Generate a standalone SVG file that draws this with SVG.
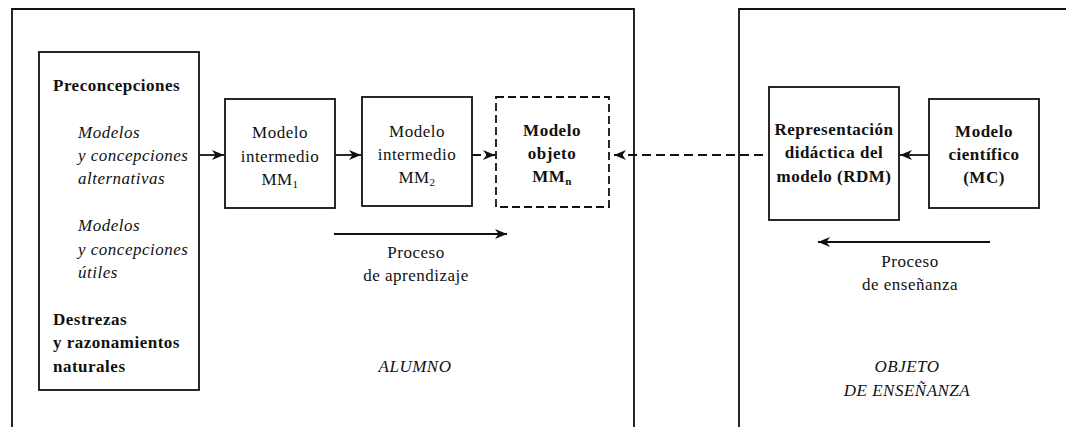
<svg xmlns="http://www.w3.org/2000/svg" width="1066" height="427" viewBox="0 0 1066 427">
<defs>
<style>
.frame{fill:none;stroke:#111;stroke-width:1.8}
.box{fill:#fff;stroke:#111;stroke-width:1.8}
.dbox{fill:#fff;stroke:#111;stroke-width:1.8;stroke-dasharray:8 4}
.t{font-family:"Liberation Serif","Times New Roman",serif;font-size:17px;fill:#111;letter-spacing:0.5px}
.c{text-anchor:middle}
.b{font-weight:bold}
.i{font-style:italic}
.sub{font-size:11px}
.ln{stroke:#111;stroke-width:1.8;fill:none}
.dl{stroke:#111;stroke-width:1.8;fill:none;stroke-dasharray:9 5}
</style>
<marker id="ah" viewBox="0 0 12 10" refX="12" refY="5" markerWidth="12" markerHeight="10" markerUnits="userSpaceOnUse" orient="auto">
<path d="M0,0 L12,5 L0,10 L3.5,5 z" fill="#111"/>
</marker>
</defs>
<rect width="1066" height="427" fill="#fff"/>

<g id="frames">
<path class="frame" d="M12,427 V9 H634 V427"/>
<path class="frame" d="M739,427 V9 H1066"/>
</g>

<g id="connectors">
<line class="ln" x1="199" y1="155" x2="224" y2="155" marker-end="url(#ah)"/>
<line class="ln" x1="335" y1="155" x2="361" y2="155" marker-end="url(#ah)"/>
<line class="dl" x1="472" y1="155" x2="495" y2="155" marker-end="url(#ah)"/>
<line class="dl" x1="763" y1="155" x2="614" y2="155" marker-end="url(#ah)"/>
<line class="ln" x1="929" y1="155" x2="900" y2="155" marker-end="url(#ah)"/>
<line class="ln" x1="334" y1="234" x2="507" y2="234" marker-end="url(#ah)"/>
<line class="ln" x1="990" y1="242" x2="818" y2="242" marker-end="url(#ah)"/>
</g>

<g id="preconcepciones">
<rect class="box" x="39" y="52" width="160" height="338"/>
<text class="t b" x="53" y="91">Preconcepciones</text>
<text class="t i" x="78" y="138">Modelos</text>
<text class="t i" x="78" y="161">y concepciones</text>
<text class="t i" x="78" y="184">alternativas</text>
<text class="t i" x="78" y="231">Modelos</text>
<text class="t i" x="78" y="255">y concepciones</text>
<text class="t i" x="78" y="278">útiles</text>
<text class="t b" x="53" y="325">Destrezas</text>
<text class="t b" x="53" y="348">y razonamientos</text>
<text class="t b" x="53" y="372">naturales</text>
</g>

<g id="mm1">
<rect class="box" x="225" y="99" width="110" height="109"/>
<text class="t c" x="280" y="138">Modelo</text>
<text class="t c" x="280" y="162">intermedio</text>
<text class="t c" x="280" y="185">MM<tspan class="sub" dy="3">1</tspan></text>
</g>

<g id="mm2">
<rect class="box" x="362" y="97" width="110" height="109"/>
<text class="t c" x="417" y="137">Modelo</text>
<text class="t c" x="417" y="160">intermedio</text>
<text class="t c" x="417" y="183">MM<tspan class="sub" dy="3">2</tspan></text>
</g>

<g id="mmn">
<rect class="dbox" x="496" y="97" width="113" height="110"/>
<text class="t c b" x="552" y="136">Modelo</text>
<text class="t c b" x="552" y="159">objeto</text>
<text class="t c b" x="552" y="182">MM<tspan class="sub" dy="3">n</tspan></text>
</g>

<g id="rdm">
<rect class="box" x="769" y="87" width="130" height="133"/>
<text class="t c b" x="834" y="135">Representación</text>
<text class="t c b" x="834" y="158">didáctica del</text>
<text class="t c b" x="834" y="182">modelo (RDM)</text>
</g>

<g id="mc">
<rect class="box" x="929" y="99" width="110" height="109"/>
<text class="t c b" x="984" y="137">Modelo</text>
<text class="t c b" x="984" y="160">científico</text>
<text class="t c b" x="984" y="183">(MC)</text>
</g>

<g id="labels">
<text class="t c" x="416" y="258">Proceso</text>
<text class="t c" x="416" y="281">de aprendizaje</text>
<text class="t c" x="910" y="267">Proceso</text>
<text class="t c" x="910" y="290">de enseñanza</text>
<text class="t c i" x="415" y="372">ALUMNO</text>
<text class="t c i" x="907" y="372">OBJETO</text>
<text class="t c i" x="907" y="396">DE ENSEÑANZA</text>
</g>
</svg>
